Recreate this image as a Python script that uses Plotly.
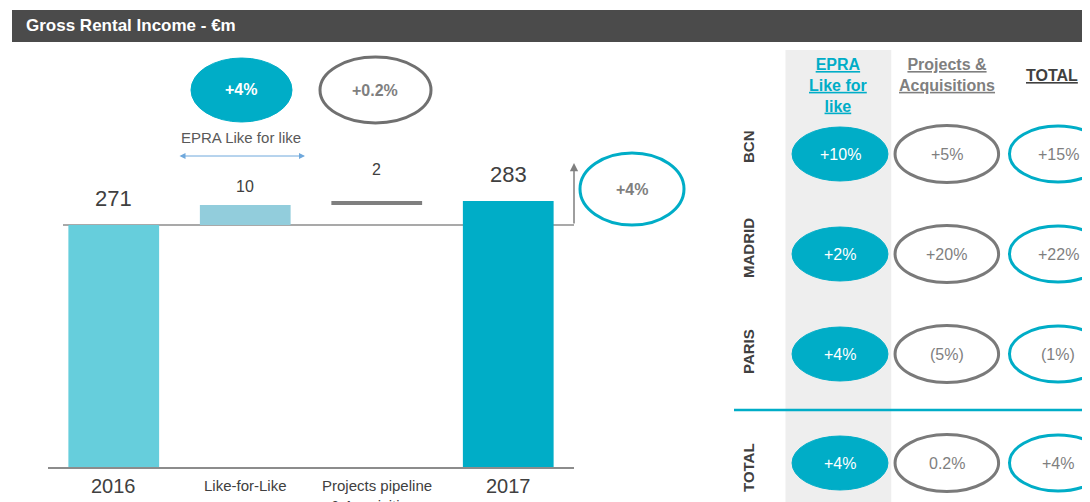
import plotly.graph_objects as go

# ---------------- data ----------------
categories = ["2016", "Like-for-Like", "Projects pipeline<br>& Acquisitions", "2017"]
values = [271, 10, 2, 283]
kinds = ["absolute", "relative", "relative", "total"]
bar_colors = ["#66CEDC", "#92CDDC", "#7F7F7F", "#00ADC7"]
top_bubbles = ["+4%", "+0.2%"]
top_bubble_caption = "EPRA Like for like"
total_growth = "+4%"

cities = ["BCN", "MADRID", "PARIS", "TOTAL"]
col_headers = ["EPRA<br>Like for<br>like", "Projects &<br>Acquisitions", "TOTAL"]
epra_lfl = ["+10%", "+2%", "+4%", "+4%"]
projects_acq = ["+5%", "+20%", "(5%)", "0.2%"]
total_pct = ["+15%", "+22%", "(1%)", "+4%"]

# ---------------- layout helpers ----------------
W, H = 1090, 502
OX, OY = 8, 8          # page body margin offset
def PX(x): return (x - OX) / W
def PY(y): return 1 - (y - OY) / H

TEAL = "#00ADC7"
GREY = "#7F7F7F"
DARK = "#404040"
FONT = "Liberation Sans, Arial, sans-serif"
NARROW = "Liberation Sans Narrow, Arial Narrow, Liberation Sans, Arial, sans-serif"

# waterfall bases
bases, heights = [], []
running = 0
for v, k in zip(values, kinds):
    if k == "absolute":
        bases.append(0); heights.append(v); running = v
    elif k == "relative":
        bases.append(running); heights.append(v); running += v
    else:
        bases.append(0); heights.append(v)

fig = go.Figure()
fig.add_trace(go.Bar(
    x=list(range(len(categories))), y=heights, base=bases,
    marker=dict(color=bar_colors, line=dict(width=0)),
    width=0.69, hoverinfo="skip", showlegend=False,
    xaxis="x", yaxis="y",
))

# invisible trace to activate the table axes
fig.add_trace(go.Scatter(x=[0], y=[0], mode="markers", marker=dict(opacity=0),
                         xaxis="x2", yaxis="y2", showlegend=False, hoverinfo="skip"))

shapes = []
annotations = []

def ann(**kw):
    kw.setdefault("xanchor", "center")
    kw.setdefault("yanchor", "middle")
    kw.setdefault("showarrow", False)
    annotations.append(kw)

# header bar
shapes.append(dict(type="rect", xref="paper", yref="paper", x0=PX(12), x1=1,
                   y0=PY(42), y1=PY(10), fillcolor="#4B4B4B", line=dict(width=0), layer="below"))
ann(xref="paper", yref="paper", x=PX(24), y=PY(26), xanchor="left",
    text="<b>Gross Rental Income - €m</b>", font=dict(family=FONT, size=17, color="white"))

# baseline at the start value
shapes.append(dict(type="line", xref="paper", yref="y", x0=PX(63), x1=PX(574),
                   y0=values[0], y1=values[0], line=dict(color="#8C8C8C", width=1.5), layer="below"))

# value labels above bars
label_sizes = [22, 16, 16, 22]
label_shift = [12, 8, 21, 12]
for i, (b, h) in enumerate(zip(bases, heights)):
    ann(xref="x", yref="y", x=i, y=b + h, yanchor="bottom", yshift=label_shift[i],
        text=str(values[i]), font=dict(family=FONT, size=label_sizes[i], color=DARK))

# category labels
cat_sizes = [20, 15, 15, 20]
cat_y = [473, 475, 475, 473]
for i, c in enumerate(categories):
    ann(xref="x", yref="paper", x=i, y=PY(cat_y[i]), yanchor="top", text=c, align="center",
        font=dict(family=FONT, size=cat_sizes[i], color=DARK))

# growth arrow at the right of the chart
annotations.append(dict(xref="x", yref="y", x=3.5, y=302, axref="x", ayref="y",
                        ax=3.5, ay=values[0], showarrow=True, arrowhead=2, arrowsize=1.1,
                        arrowwidth=1.5, arrowcolor="#7F7F7F", text=""))
shapes.append(dict(type="circle", xref="paper", yref="paper", x0=PX(580), x1=PX(684),
                   y0=PY(225), y1=PY(153), line=dict(color=TEAL, width=3)))
ann(xref="paper", yref="paper", x=PX(632), y=PY(189), text="<b>" + total_growth + "</b>",
    font=dict(family=FONT, size=16, color=GREY))

# top bubbles
shapes.append(dict(type="circle", xref="paper", yref="paper", x0=PX(191), x1=PX(292),
                   y0=PY(122), y1=PY(58), fillcolor=TEAL, line=dict(color=TEAL, width=1)))
ann(xref="paper", yref="paper", x=PX(241), y=PY(90), text="<b>" + top_bubbles[0] + "</b>",
    font=dict(family=FONT, size=16, color="white"))
shapes.append(dict(type="circle", xref="paper", yref="paper", x0=PX(320), x1=PX(431),
                   y0=PY(123), y1=PY(57), line=dict(color="#707070", width=3)))
ann(xref="paper", yref="paper", x=PX(375), y=PY(91), text="<b>" + top_bubbles[1] + "</b>",
    font=dict(family=FONT, size=16, color=GREY))
ann(xref="paper", yref="paper", x=PX(241), y=PY(137), text=top_bubble_caption,
    font=dict(family=FONT, size=15, color="#595959"))
annotations.append(dict(xref="paper", yref="paper", axref="pixel", ayref="pixel",
                        x=PX(305), y=PY(156), ax=-(305 - 178), ay=0, showarrow=True,
                        arrowside="end+start", arrowhead=2, arrowsize=1.2, arrowwidth=1,
                        arrowcolor="#6FA8DC", text=""))

# ---------------- right table ----------------
col_pos = [0, 0.98, 2.0]
row_pos = [0, 1, 2, 3.09]
COL_UNIT, ROW_UNIT = 109.0, 100.0
COL0_PX, ROW0_PX, TABLE_TOP = 840.0, 154.0, 50.0

# grey column background
shapes.append(dict(type="rect", xref="x2", yref="y2", x0=-0.515, x1=0.47,
                   y0=(TABLE_TOP - ROW0_PX) / ROW_UNIT, y1=(H + OY - ROW0_PX) / ROW_UNIT,
                   fillcolor="#EEEEEE", line=dict(width=0), layer="below"))

header_colors = [TEAL, GREY, DARK]
header_y = [-0.69, -0.79, -0.79]
header_xshift = [-2, 0, -6]
for j, t in enumerate(col_headers):
    lines = t.split("<br>")
    txt = "<br>".join("<u>" + l + "</u>" for l in lines)
    ann(xref="x2", yref="y2", x=col_pos[j], y=header_y[j], xshift=header_xshift[j],
        text="<b>" + txt + "</b>", align="center",
        font=dict(family=NARROW, size=16, color=header_colors[j]))

label_yshift = [7, 6, 2, -5]
for i, c in enumerate(cities):
    ann(xref="paper", yref="y2", x=PX(748), y=row_pos[i], yshift=label_yshift[i], textangle=-90,
        text="<b>" + c + "</b>", font=dict(family=FONT, size=15, color=DARK))

rx = [0.44, 0.475, 0.445]
ry = [0.27, 0.285, 0.28]
cols = [epra_lfl, projects_acq, total_pct]
for j, col in enumerate(cols):
    for i, v in enumerate(col):
        x0, x1 = col_pos[j] - rx[j], col_pos[j] + rx[j]
        y0, y1 = row_pos[i] - ry[j], row_pos[i] + ry[j]
        if j == 0:
            shapes.append(dict(type="circle", xref="x2", yref="y2", x0=x0, x1=x1, y0=y0, y1=y1,
                               fillcolor=TEAL, line=dict(color=TEAL, width=1)))
            fc = "white"
        else:
            lc = "#7A7A7A" if j == 1 else TEAL
            shapes.append(dict(type="circle", xref="x2", yref="y2", x0=x0, x1=x1, y0=y0, y1=y1,
                               line=dict(color=lc, width=3)))
            fc = GREY
        ann(xref="x2", yref="y2", x=col_pos[j], y=row_pos[i], text=v,
            font=dict(family=NARROW, size=16, color=fc))

# teal separator before TOTAL row
shapes.append(dict(type="line", xref="paper", yref="y2", x0=PX(734), x1=1, y0=2.56, y1=2.56,
                   line=dict(color=TEAL, width=2.5)))

x2_left = COL0_PX - 0.5 * COL_UNIT
fig.update_layout(
    width=W, height=H,
    margin=dict(l=0, r=0, t=0, b=0),
    paper_bgcolor="white", plot_bgcolor="rgba(0,0,0,0)",
    showlegend=False,
    xaxis=dict(domain=[PX(48), PX(574)], range=[-0.5, 3.5], showticklabels=False, ticks="",
               showgrid=False, zeroline=False, showline=True, linecolor="#8C8C8C", linewidth=2,
               fixedrange=True),
    yaxis=dict(domain=[PY(467), PY(150)], range=[150, 150 + (467 - 150) / 2], visible=False,
               showgrid=False, zeroline=False, fixedrange=True),
    xaxis2=dict(domain=[PX(x2_left), 1], range=[-0.5, -0.5 + (W + OX - x2_left) / COL_UNIT],
                visible=False, anchor="y2", fixedrange=True),
    yaxis2=dict(domain=[0, PY(TABLE_TOP)],
                range=[(H + OY - ROW0_PX) / ROW_UNIT, (TABLE_TOP - ROW0_PX) / ROW_UNIT],
                visible=False, anchor="x2", fixedrange=True),
    shapes=shapes,
    annotations=annotations,
)

fig.write_html("out.html")
